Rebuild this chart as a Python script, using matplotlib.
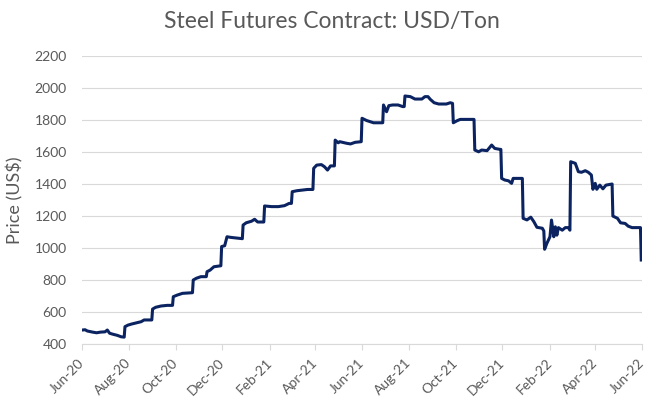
import pandas as pd
import matplotlib
matplotlib.use("Agg")
import matplotlib.pyplot as plt
import matplotlib.dates as mdates

# Front-month steel futures price (USD/ton)
dates = [
    "2020-06-01", "2020-06-05", "2020-06-08", "2020-06-15", "2020-06-20", "2020-06-25",
    "2020-07-01", "2020-07-04", "2020-07-07", "2020-07-12", "2020-07-17", "2020-07-22",
    "2020-07-26", "2020-07-27", "2020-07-31", "2020-08-05", "2020-08-12", "2020-08-17",
    "2020-08-21", "2020-08-31", "2020-09-01", "2020-09-05", "2020-09-12", "2020-09-20",
    "2020-09-27", "2020-09-28", "2020-10-03", "2020-10-10", "2020-10-23", "2020-10-24",
    "2020-10-28", "2020-11-03", "2020-11-10", "2020-11-11", "2020-11-15", "2020-11-20",
    "2020-11-29", "2020-11-30", "2020-12-04", "2020-12-07", "2020-12-12", "2020-12-20",
    "2020-12-27", "2020-12-28", "2021-01-01", "2021-01-08", "2021-01-12", "2021-01-16",
    "2021-01-24", "2021-01-25", "2021-02-03", "2021-02-12", "2021-02-20", "2021-02-26",
    "2021-03-01", "2021-03-02", "2021-03-08", "2021-03-15", "2021-03-22", "2021-03-29",
    "2021-03-30", "2021-04-03", "2021-04-09", "2021-04-13", "2021-04-17", "2021-04-21",
    "2021-04-26", "2021-04-27", "2021-05-01", "2021-05-03", "2021-05-12", "2021-05-17",
    "2021-05-23", "2021-05-31", "2021-06-01", "2021-06-07", "2021-06-16", "2021-06-28",
    "2021-06-29", "2021-07-03", "2021-07-06", "2021-07-11", "2021-07-18", "2021-07-24",
    "2021-07-26", "2021-07-27", "2021-08-03", "2021-08-09", "2021-08-18", "2021-08-22",
    "2021-08-26", "2021-08-29", "2021-09-03", "2021-09-09", "2021-09-19", "2021-09-24",
    "2021-09-27", "2021-09-28", "2021-10-03", "2021-10-07", "2021-10-25", "2021-10-26",
    "2021-10-31", "2021-11-04", "2021-11-11", "2021-11-17", "2021-11-21", "2021-11-28",
    "2021-11-29", "2021-11-30", "2021-12-04", "2021-12-09", "2021-12-13", "2021-12-15",
    "2021-12-27", "2021-12-28", "2022-01-02", "2022-01-07", "2022-01-11", "2022-01-15",
    "2022-01-22", "2022-01-24", "2022-01-25", "2022-01-28", "2022-02-01", "2022-02-03",
    "2022-02-06", "2022-02-08", "2022-02-10", "2022-02-12", "2022-02-17", "2022-02-21",
    "2022-02-25", "2022-02-27", "2022-02-28", "2022-03-06", "2022-03-10", "2022-03-14",
    "2022-03-19", "2022-03-23", "2022-03-27", "2022-03-29", "2022-04-01", "2022-04-03",
    "2022-04-07", "2022-04-11", "2022-04-15", "2022-04-23", "2022-04-24", "2022-04-30",
    "2022-05-04", "2022-05-10", "2022-05-14", "2022-05-19", "2022-05-30", "2022-05-31",
]
prices = [
    489, 491, 483, 476, 472, 476,
    478, 489, 469, 462, 456, 447,
    445, 510, 520, 527, 535, 541,
    552, 552, 620, 631, 639, 643,
    643, 697, 707, 718, 722, 801,
    812, 822, 822, 853, 863, 884,
    890, 1010, 1015, 1071, 1067, 1063,
    1059, 1144, 1158, 1168, 1180, 1163,
    1163, 1263, 1259, 1259, 1265, 1279,
    1279, 1352, 1358, 1362, 1366, 1366,
    1498, 1518, 1521, 1508, 1487, 1513,
    1513, 1674, 1657, 1664, 1654, 1650,
    1660, 1664, 1810, 1796, 1782, 1782,
    1893, 1851, 1889, 1893, 1893, 1883,
    1883, 1949, 1945, 1930, 1930, 1945,
    1945, 1928, 1907, 1899, 1899, 1907,
    1903, 1782, 1795, 1803, 1803, 1612,
    1601, 1612, 1608, 1643, 1622, 1616,
    1616, 1435, 1425, 1420, 1404, 1435,
    1435, 1186, 1176, 1193, 1165, 1130,
    1124, 1107, 993, 1030, 1071, 1175,
    1071, 1133, 1081, 1128, 1112, 1128,
    1128, 1112, 1539, 1529, 1477, 1473,
    1483, 1473, 1456, 1367, 1404, 1367,
    1393, 1370, 1393, 1400, 1200, 1186,
    1158, 1154, 1137, 1128, 1128, 926,
]
y_ticks = [400, 600, 800, 1000, 1200, 1400, 1600, 1800, 2000, 2200]

plt.rcParams["font.family"] = ["Lato", "DejaVu Sans"]
text_grey = "#595959"

df = pd.DataFrame({"date": pd.to_datetime(dates), "price": prices})

fig = plt.figure(figsize=(6.64, 4.07), dpi=100)
ax = fig.add_axes([0.1235, 0.154, 0.8434, 0.709])

ax.plot(df["date"], df["price"], color="#0b2461", linewidth=2.2,
        solid_joinstyle="round", zorder=3)

# Axis limits and ticks
ax.set_xlim(pd.Timestamp("2020-06-01"), pd.Timestamp("2022-06-01"))
ax.set_ylim(400, 2200)
ax.set_yticks(y_ticks)
ax.xaxis.set_major_locator(mdates.MonthLocator(bymonth=[2, 4, 6, 8, 10, 12]))
ax.xaxis.set_major_formatter(mdates.DateFormatter("%b-%y"))

# Excel-like styling: horizontal grid only, bottom axis line
ax.grid(axis="y", color="#d9d9d9", linewidth=0.8)
ax.set_axisbelow(True)
for side in ["left", "right", "top"]:
    ax.spines[side].set_visible(False)
ax.spines["bottom"].set_color("#d9d9d9")
ax.spines["bottom"].set_linewidth(0.8)
ax.tick_params(axis="y", length=0, pad=11, labelsize=10, labelcolor=text_grey)
ax.tick_params(axis="x", length=4, color="#d9d9d9", pad=8,
               labelsize=10, labelcolor=text_grey)
for lbl in ax.get_xticklabels():
    lbl.set_rotation(45)
    lbl.set_ha("right")
    lbl.set_va("center")
    lbl.set_rotation_mode("anchor")

ax.set_ylabel("Price (US$)", fontsize=13, color=text_grey, labelpad=8)
fig.text(0.5, 0.93, "Steel Futures Contract: USD/Ton", ha="center", va="baseline",
         fontsize=16.5, color=text_grey)

fig.savefig("out.png", dpi=100)
plt.close(fig)
